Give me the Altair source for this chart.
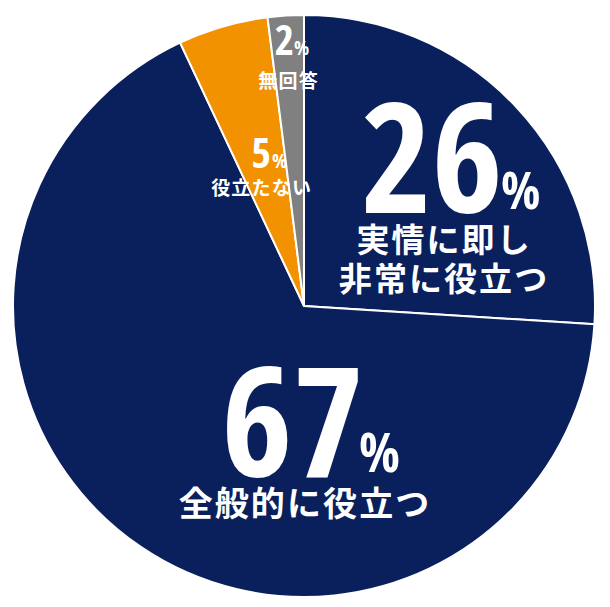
import altair as alt
import pandas as pd

# ---- data ----
categories = ["実情に即し非常に役立つ", "全般的に役立つ", "役立たない", "無回答"]
values = [26, 67, 5, 2]
colors = ["#0a205c", "#0a205c", "#f39200", "#808080"]
label_lines = [["実情に即し", "非常に役立つ"], ["全般的に役立つ"], ["役立たない"], ["無回答"]]

# ---- layout (pixel positions inside the plot area) ----
num_pos = [(495, 205), (356, 469), (263, 160), (286, 47)]
num_size = [154, 154, 42, 42]
pct_pos = [(493, 201), (351, 464), (264, 160), (286, 47)]
pct_size = [52, 54, 20, 20]
line_pos = [[(435, 234), (435, 273)], [(296, 498)], [(253, 181)], [(280, 74)]]
line_size = [33, 34, 19, 19]

W, H = 592, 590
CX, CY, R = 296, 298, 291

pie_df = pd.DataFrame({"cat": categories, "value": values, "order": list(range(len(values)))})

pie = alt.Chart(pie_df).mark_arc(outerRadius=R, stroke="white", strokeWidth=2).encode(
    theta=alt.Theta("value:Q", stack=True),
    order=alt.Order("order:Q"),
    color=alt.Color("cat:N", scale=alt.Scale(domain=categories, range=colors), legend=None),
    x=alt.value(CX),
    y=alt.value(CY),
)

nums = pd.DataFrame({
    "t": [str(v) for v in values],
    "px": [p[0] for p in num_pos],
    "py": [p[1] for p in num_pos],
    "s": num_size,
})
pcts = pd.DataFrame({
    "t": ["%"] * len(values),
    "px": [p[0] for p in pct_pos],
    "py": [p[1] for p in pct_pos],
    "s": pct_size,
})
rows = []
for i, lines in enumerate(label_lines):
    for j, ln in enumerate(lines):
        rows.append({"t": "\u200a".join(ln), "px": line_pos[i][j][0], "py": line_pos[i][j][1], "s": line_size[i]})
labels = pd.DataFrame(rows)

num_font = ("'Noto Sans ExtraCondensed', 'Noto Sans Condensed', 'Open Sans Condensed', "
            "'Roboto Condensed', 'DejaVu Sans Condensed', 'Liberation Sans Narrow', 'Noto Sans CJK JP'")
num_layer = alt.Chart(nums).mark_text(
    align="right", baseline="alphabetic", font=num_font, fontWeight="bold", color="white"
).encode(
    x=alt.X("px:Q", scale=None), y=alt.Y("py:Q", scale=None),
    text="t:N", size=alt.Size("s:Q", scale=None, legend=None),
)
pct_layer = alt.Chart(pcts).mark_text(
    align="left", baseline="alphabetic", font=num_font, fontWeight="bold", color="white"
).encode(
    x=alt.X("px:Q", scale=None), y=alt.Y("py:Q", scale=None),
    text="t:N", size=alt.Size("s:Q", scale=None, legend=None),
)
label_layer = alt.Chart(labels).mark_text(
    align="center", baseline="middle", font="Noto Sans CJK JP", fontWeight="bold", color="white"
).encode(
    x=alt.X("px:Q", scale=None), y=alt.Y("py:Q", scale=None),
    text="t:N", size=alt.Size("s:Q", scale=None, legend=None),
)

chart = alt.layer(pie, num_layer, pct_layer, label_layer).properties(
    width=W, height=H, padding=0, autosize=alt.AutoSizeParams(type="none"), background="white"
).configure_view(stroke=None)

chart.save("out.html", embed_options={"renderer": "svg", "actions": False})
